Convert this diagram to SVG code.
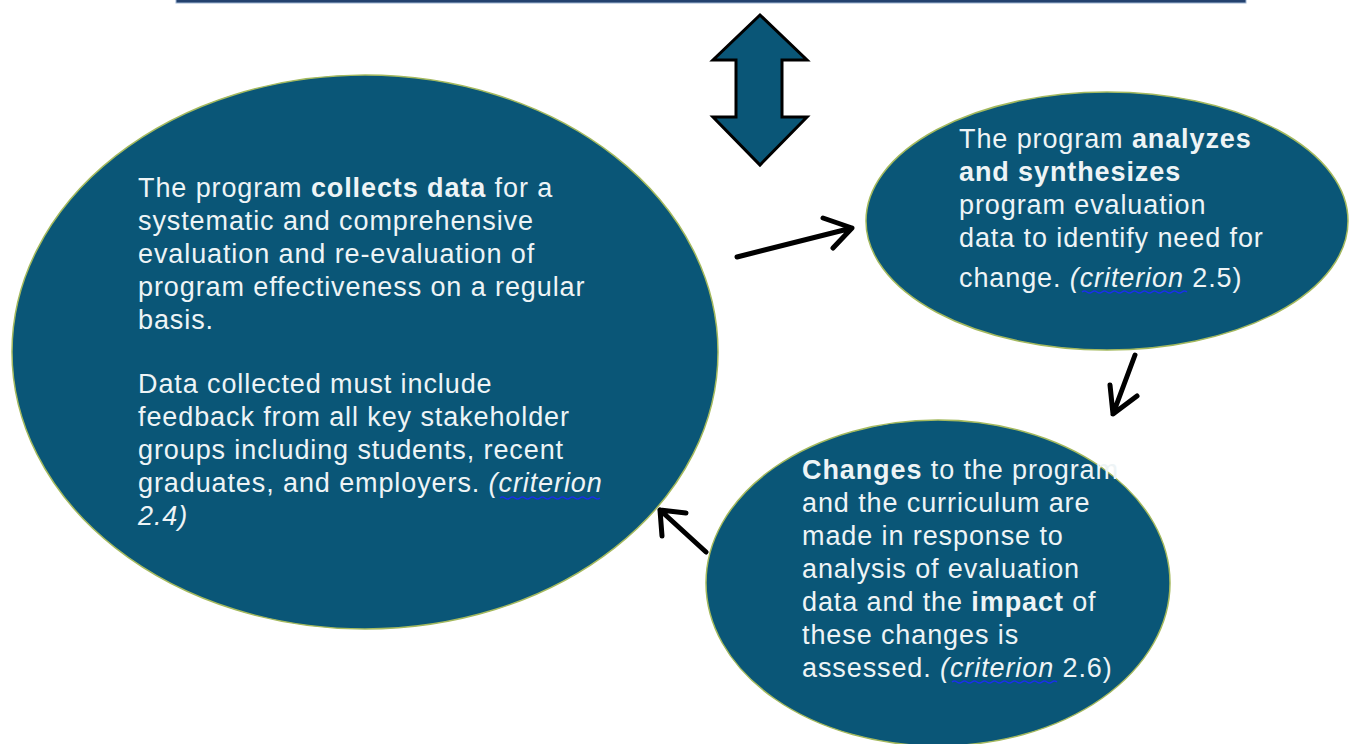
<svg xmlns="http://www.w3.org/2000/svg" width="1351" height="744" viewBox="0 0 1351 744">
<defs>
<style>
.node{fill:#0A5677;stroke:#A4B95E;stroke-width:1.5}
.t{font-family:"Liberation Sans",Arial,sans-serif;font-size:27px;fill:#EEF4F6;letter-spacing:0.9px}
.b{font-weight:bold}
.i{font-style:italic}
.conn{stroke:#000;stroke-width:5;fill:none;stroke-linecap:round;stroke-linejoin:round}
.wave{stroke:#1A30E8;stroke-width:1.5;fill:none}
</style>
</defs>
<rect width="1351" height="744" fill="#FFFFFF"/>
<rect x="176" y="-2" width="1070" height="5" fill="#23416E" stroke="#9FB6D3" stroke-width="1"/>
<g id="double-arrow">
<path d="M760,15 L807,60 L782,60 L782,117 L807,117 L760,165 L713,117 L736,117 L736,60 L713,60 Z" fill="#0A5677" stroke="#000" stroke-width="3" stroke-linejoin="miter"/>
</g>
<g id="node-collect">
<ellipse class="node" cx="365" cy="352" rx="353" ry="277"/>
<text class="t" x="138" y="197">The program <tspan class="b">collects data</tspan> for a</text>
<text class="t" x="138" y="230">systematic and comprehensive</text>
<text class="t" x="138" y="263">evaluation and re-evaluation of</text>
<text class="t" x="138" y="296">program effectiveness on a regular</text>
<text class="t" x="138" y="329">basis.</text>
<text class="t" x="138" y="393">Data collected must include</text>
<text class="t" x="138" y="426">feedback from all key stakeholder</text>
<text class="t" x="138" y="459">groups including students, recent</text>
<text class="t" x="138" y="492">graduates, and employers. <tspan class="i">(criterion</tspan></text>
<text class="t i" x="138" y="525">2.4)</text>
<path class="wave" d="M500,498 q2.5,-2 5,0 t5,0 t5,0 t5,0 t5,0 t5,0 t5,0 t5,0 t5,0 t5,0 t5,0 t5,0 t5,0 t5,0 t5,0 t5,0 t5,0 t5,0 t5,0 t5,0"/>
</g>
<g id="node-analyze">
<ellipse class="node" cx="1107" cy="221" rx="241" ry="129"/>
<text class="t" x="959" y="148">The program <tspan class="b">analyzes</tspan></text>
<text class="t b" x="959" y="181">and synthesizes</text>
<text class="t" x="959" y="214">program evaluation</text>
<text class="t" x="959" y="247">data to identify need for</text>
<text class="t" x="959" y="287">change. <tspan class="i">(criterion</tspan> 2.5)</text>
<path class="wave" d="M1082,292 q2.5,-2 5,0 t5,0 t5,0 t5,0 t5,0 t5,0 t5,0 t5,0 t5,0 t5,0 t5,0 t5,0 t5,0 t5,0 t5,0 t5,0 t5,0 t5,0 t5,0 t5,0 t5,0"/>
</g>
<g id="node-changes">
<ellipse class="node" cx="938" cy="583" rx="232" ry="163"/>
<text class="t" x="802" y="479"><tspan class="b">Changes</tspan> to the program</text>
<text class="t" x="802" y="512">and the curriculum are</text>
<text class="t" x="802" y="545">made in response to</text>
<text class="t" x="802" y="578">analysis of evaluation</text>
<text class="t" x="802" y="611">data and the <tspan class="b">impact</tspan> of</text>
<text class="t" x="802" y="644">these changes is</text>
<text class="t" x="802" y="677">assessed. <tspan class="i">(criterion</tspan> 2.6)</text>
<path class="wave" d="M952,682 q2.5,-2 5,0 t5,0 t5,0 t5,0 t5,0 t5,0 t5,0 t5,0 t5,0 t5,0 t5,0 t5,0 t5,0 t5,0 t5,0 t5,0 t5,0 t5,0 t5,0 t5,0 t5,0"/>
</g>
<g id="connectors">
<path class="conn" d="M737,257 L852,228 M823,218 L852,228 L833,248"/>
<path class="conn" d="M1135,355 L1113,414 M1110,385 L1113,414 L1137,396"/>
<path class="conn" d="M706,552 L660,510 M662,536 L660,510 L686,513"/>
</g>
</svg>
